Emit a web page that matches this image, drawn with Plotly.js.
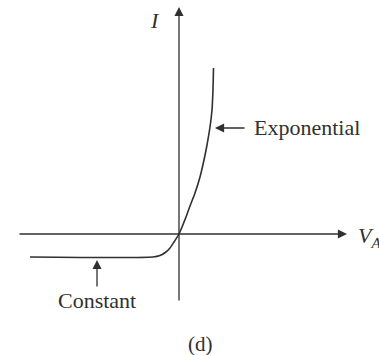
<!DOCTYPE html>
<html>
<head>
<meta charset="utf-8">
<script src="https://cdn.plot.ly/plotly-3.0.1.min.js"></script>
<style>html,body{margin:0;padding:0;background:#fff;}#chart{width:379px;height:355px;}</style>
</head>
<body>
<div id="chart"></div>
<script>
// I–V characteristic (arbitrary units)
const curveV = [-149, -26, -19, -13, -9, -5, 0, 7, 11, 16, 21, 25, 28, 31, 33, 34, 34.5];
const curveI = [-23, -23, -21.5, -18, -14, -8, 0, 17, 28, 41, 57, 74, 89, 107, 124, 145, 166];

const labelExp = "Exponential";
const labelConst = "Constant";
const labelFig = "(d)";
const labelI = "<i>I</i>";
const labelV = "<i>V<sub>A</sub></i>";

const ink = "#303030";
const serif = "Liberation Serif, Times New Roman, serif";

const traces = [
  {x: curveV, y: curveI, mode: "lines", line: {color: ink, width: 1.6, shape: "spline", smoothing: 0.6}, hoverinfo: "skip"}
];

function arrow(x, y, ax, ay) {
  return {x: x, y: y, ax: ax, ay: ay, xref: "x", yref: "y", axref: "x", ayref: "y",
          text: "", showarrow: true, arrowhead: 2, arrowsize: 1.4, arrowwidth: 1.3, arrowcolor: ink};
}

const annotations = [
  arrow(168, 0, -161, 0),      // V axis
  arrow(0, 227, 0, -68),       // I axis
  arrow(36, 106, 67, 106),     // Exponential pointer
  arrow(-82, -26, -82, -54),   // Constant pointer
  {x: 73, y: 107, xref: "x", yref: "y", text: labelExp, showarrow: false, xanchor: "left", yanchor: "middle",
   font: {family: serif, size: 22, color: ink}},
  {x: -82.5, y: -66, xref: "x", yref: "y", text: labelConst, showarrow: false, xanchor: "center", yanchor: "middle",
   font: {family: serif, size: 22, color: ink}},
  {x: 21, y: -110, xref: "x", yref: "y", text: labelFig, showarrow: false, xanchor: "center", yanchor: "middle",
   font: {family: serif, size: 21, color: ink}},
  {x: -24, y: 214, xref: "x", yref: "y", text: labelI, showarrow: false, xanchor: "center", yanchor: "middle",
   font: {family: serif, size: 22, color: ink}},
  {x: 177, y: -3, xref: "x", yref: "y", text: labelV, showarrow: false, xanchor: "left", yanchor: "middle",
   font: {family: serif, size: 22, color: ink}}
];

const layout = {
  width: 379, height: 355,
  margin: {l: 0, r: 0, t: 0, b: 0, pad: 0},
  paper_bgcolor: "#ffffff", plot_bgcolor: "#ffffff",
  showlegend: false,
  xaxis: {range: [-179, 200], visible: false, fixedrange: true},
  yaxis: {range: [-121, 234], visible: false, fixedrange: true},
  annotations: annotations
};

Plotly.newPlot("chart", traces, layout, {staticPlot: true, displayModeBar: false});
</script>
</body>
</html>
